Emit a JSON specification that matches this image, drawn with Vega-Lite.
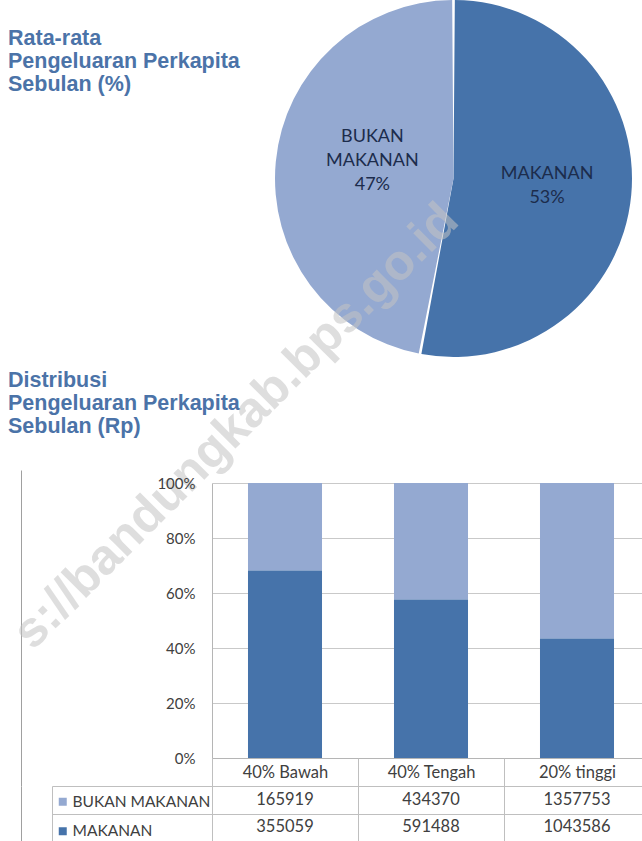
{
  "$schema": "https://vega.github.io/schema/vega-lite/v6.json",
  "background": "white",
  "padding": 0,
  "config": {"view": {"stroke": null}},
  "datasets": {
    "komposisi": [
      {"kategori": "MAKANAN", "persen": 53, "label": "MAKANAN\n53%"},
      {"kategori": "BUKAN MAKANAN", "persen": 47, "label": "BUKAN\nMAKANAN\n47%"}
    ],
    "pengeluaran": [
      {"kelompok": "40% Bawah", "seri": "BUKAN MAKANAN", "nilai": 165919},
      {"kelompok": "40% Bawah", "seri": "MAKANAN", "nilai": 355059},
      {"kelompok": "40% Tengah", "seri": "BUKAN MAKANAN", "nilai": 434370},
      {"kelompok": "40% Tengah", "seri": "MAKANAN", "nilai": 591488},
      {"kelompok": "20% tinggi", "seri": "BUKAN MAKANAN", "nilai": 1357753},
      {"kelompok": "20% tinggi", "seri": "MAKANAN", "nilai": 1043586}
    ],
    "judul": [
      {"bagian": "atas", "teks": "Rata-rata\nPengeluaran Perkapita\nSebulan (%)"},
      {"bagian": "bawah", "teks": "Distribusi\nPengeluaran Perkapita\nSebulan (Rp)"}
    ],
    "tanda_air": [{"teks": "s://bandungkab.bps.go.id"}]
  },
  "columns": 2,
  "spacing": {"row": 0, "column": 0},
  "bounds": "flush",
  "align": "each",
  "resolve": {"scale": {"color": "independent"}, "legend": {"color": "independent"}},
  "concat": [
    {
      "width": 16, "height": 483,
      "data": {"name": "judul"},
      "mark": {"type": "text", "align": "left", "baseline": "top", "lineBreak": "\n", "lineHeight": 23, "font": "Liberation Sans", "fontWeight": "bold", "fontSize": 21.5, "color": "#4b73a8"},
      "encoding": {
        "y": {"field": "bagian", "type": "nominal", "sort": ["atas", "bawah"], "scale": {"type": "point", "padding": 0.2061, "align": 0.1986}, "axis": null},
        "text": {"field": "teks"}
      }
    },
    {
      "width": 483, "height": 357,
      "data": {"name": "komposisi"},
      "encoding": {
        "theta": {"field": "persen", "type": "quantitative", "stack": true},
        "order": {"field": "kategori", "sort": "descending"},
        "color": {"field": "kategori", "type": "nominal", "scale": {"domain": ["BUKAN MAKANAN", "MAKANAN"], "range": ["#94a9d1", "#4673aa"]}, "legend": null}
      },
      "layer": [
        {"mark": {"type": "arc", "padAngle": 0.015}},
        {"mark": {"type": "text", "radius": {"expr": "datum.kategori === 'MAKANAN' ? 94 : 81.5"}, "dy": {"expr": "datum.kategori === 'MAKANAN' ? -13 : -34"}, "lineBreak": "\n", "lineHeight": 24, "font": "Lato", "fontSize": 18, "baseline": "middle"},
         "encoding": {"text": {"field": "label"}, "color": {"value": "#1c2c4c"}}}
      ]
    },
    {
      "width": 212, "height": 303,
      "layer": [
        {
          "data": {"values": []},
          "mark": "point",
          "encoding": {
            "y": {"field": "garis", "type": "quantitative", "scale": {"domain": [0, 1], "range": [303, -13]},
                  "axis": {"title": null, "offset": -21, "ticks": false, "labels": false, "grid": false, "domainColor": "#a0a0a0"}}
          }
        },
        {
          "data": {"name": "tanda_air"},
          "mark": {"type": "text", "angle": -45, "align": "center", "baseline": "middle", "dx": 239, "dy": -55, "font": "Liberation Sans", "fontWeight": "bold", "fontSize": 50, "color": "#c4c4c4", "opacity": 0.55},
          "encoding": {"text": {"field": "teks"}}
        }
      ]
    },
    {
      "width": 438, "height": 275,
      "data": {"name": "pengeluaran"},
      "mark": {"type": "bar"},
      "encoding": {
        "x": {"field": "kelompok", "type": "nominal", "sort": ["40% Bawah", "40% Tengah", "20% tinggi"],
              "scale": {"paddingInner": 0.493, "paddingOuter": 0.2465},
              "axis": {"title": null, "labels": false, "ticks": false, "domainColor": "#b5b5b5"}},
        "y": {"field": "nilai", "type": "quantitative", "stack": "normalize", "scale": {"domain": [0, 1]},
              "axis": {"title": null, "format": ".0%", "values": [0, 0.2, 0.4, 0.6, 0.8, 1], "ticks": false, "labelPadding": 17, "labelFont": "Lato", "labelFontSize": 15, "labelColor": "#404040", "domainColor": "#b5b5b5", "gridColor": "#c9c9c9"}},
        "color": {"field": "seri", "type": "nominal", "scale": {"domain": ["BUKAN MAKANAN", "MAKANAN"], "range": ["#94a9d1", "#4673aa"]},
                  "legend": {"orient": "none", "legendX": -157, "legendY": 311, "title": null, "symbolType": "square", "symbolSize": 64, "symbolStrokeWidth": 0, "labelFont": "Lato", "labelFontSize": 15.5, "labelColor": "#404040", "labelOffset": 2, "rowPadding": 12.5, "padding": 0}},
        "order": {"field": "seri", "sort": "descending"}
      }
    },
    {
      "width": 212, "height": 55,
      "data": {"values": []},
      "mark": "point",
      "encoding": {
        "y": {"field": "garis", "type": "quantitative", "scale": {"domain": [0, 1]},
              "axis": {"title": null, "offset": -21, "ticks": false, "labels": false, "grid": false, "domainColor": "#a0a0a0"}}
      }
    },
    {
      "width": 438, "height": 55,
      "data": {"name": "pengeluaran"},
      "mark": {"type": "text", "font": "Lato", "fontSize": 16.5, "color": "#404040"},
      "encoding": {
        "x": {"field": "kelompok", "type": "nominal", "sort": ["40% Bawah", "40% Tengah", "20% tinggi"],
              "scale": {"paddingInner": 0, "paddingOuter": 0},
              "axis": {"orient": "top", "title": null, "tickBand": "extent", "tickSize": 28, "tickColor": "#bfbfbf", "domainColor": "#bfbfbf", "grid": true, "gridColor": "#bfbfbf", "labelAngle": 0, "labelFont": "Lato", "labelFontSize": 16.5, "labelColor": "#404040", "labelBaseline": "middle", "labelPadding": -14}},
        "y": {"field": "seri", "type": "nominal", "sort": ["BUKAN MAKANAN", "MAKANAN"],
              "scale": {"paddingInner": 0, "paddingOuter": 0},
              "axis": {"orient": "left", "title": null, "offset": 160, "tickSize": -160, "tickBand": "extent", "labels": false, "tickColor": "#bfbfbf", "domainColor": "#bfbfbf", "grid": true, "gridColor": "#bfbfbf"}},
        "text": {"field": "nilai", "type": "quantitative", "format": "d"}
      }
    }
  ]
}
